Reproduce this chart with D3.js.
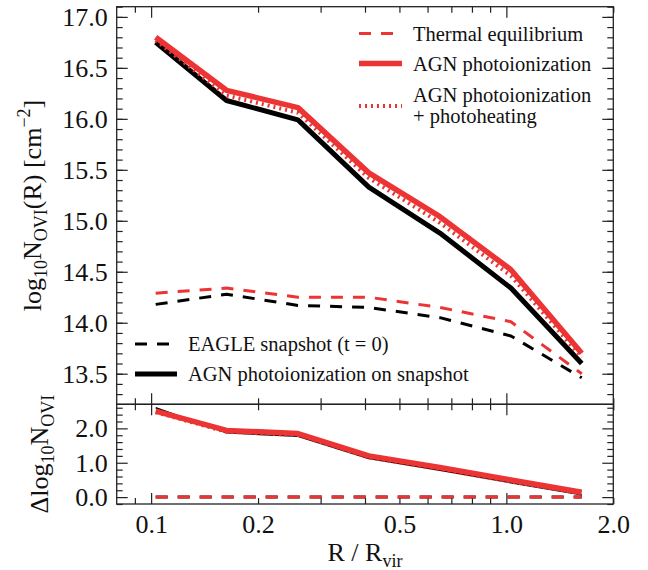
<!DOCTYPE html>
<html>
<head>
<meta charset="utf-8">
<script src="https://cdn.jsdelivr.net/npm/d3@7"></script>
<style>
  body { margin: 0; background: #fff; }
  svg { display: block; }
  text { font-family: "Liberation Serif", "Times New Roman", serif; fill: #111; }
</style>
</head>
<body>
<svg id="chart" width="648" height="570"></svg>
<script>
// Projected radius in units of the virial radius
const radius = [0.103, 0.163, 0.259, 0.41, 0.65, 1.03, 1.63];

// log10 N_OVI column densities [cm^-2]
const thermalEq      = [14.29, 14.34, 14.25, 14.25, 14.15, 14.01, 13.50];
const agnPhotoion    = [16.80, 16.28, 16.11, 15.47, 15.04, 14.52, 13.70];
const agnPhotoheat   = [16.77, 16.23, 16.06, 15.42, 14.98, 14.46, 13.66];
const eagleSnapshot  = [14.18, 14.28, 14.17, 14.15, 14.05, 13.87, 13.46];
const agnOnSnapshot  = [16.75, 16.18, 15.99, 15.33, 14.88, 14.34, 13.60];

// Enhancement relative to the matching no-AGN profile
const dThermalEq     = [0, 0, 0, 0, 0, 0, 0];
const dAgnPhotoion   = [2.50, 1.94, 1.85, 1.20, 0.86, 0.50, 0.14];
const dAgnPhotoheat  = [2.47, 1.90, 1.81, 1.16, 0.81, 0.45, 0.11];
const dEagleSnapshot = [0, 0, 0, 0, 0, 0, 0];
const dAgnOnSnapshot = [2.60, 1.87, 1.77, 1.12, 0.78, 0.42, 0.07];

// Tick values
const xMajorTicks = [0.1, 1.0];
const xMinorTicks = [0.09, 0.2, 0.3, 0.4, 0.5, 0.6, 0.7, 0.8, 0.9, 2.0];
const xTickLabels = [0.1, 0.2, 0.5, 1.0, 2.0];
const yTopMajor = [13.5, 14.0, 14.5, 15.0, 15.5, 16.0, 16.5, 17.0];
const yTopMinor = d3.range(133, 172).map(v => v / 10);
const yBotMajor = [0, 1, 2];
const yBotMinor = [-0.2, 0.2, 0.4, 0.6, 0.8, 1.2, 1.4, 1.6, 1.8, 2.2, 2.4, 2.6];

const RED = "#ec3434";
const BLACK = "#000";
const FONT = '"Liberation Serif", "Times New Roman", serif';

const svg = d3.select("#chart");

const left = 116.7, right = 613.3;
const topY0 = 6.7, topY1 = 404.3, botY1 = 504;

const x = d3.scaleLog().domain([0.08, 2.0]).range([left, right]);
const yTop = d3.scaleLinear().domain([13.2, 17.1]).range([topY1, topY0]);
const yBot = d3.scaleLinear().domain([-0.2, 2.7]).range([botY1, topY1]);

const AX = "#222";
const MAJ = 11, MIN = 6;

function drawAxis(axis, tx, ty) {
  const g = svg.append("g").attr("transform", `translate(${tx},${ty})`).call(axis);
  g.select(".domain").remove();
  g.selectAll("line").attr("stroke", AX).attr("stroke-width", 1.2);
  g.selectAll("text").attr("font-size", 26).attr("fill", "#111").attr("font-family", FONT);
  return g;
}

function panelAxes(yScale, yMajor, yMinor, y0, y1, yFmt, showXLabels) {
  svg.append("rect").attr("x", left).attr("y", y0)
    .attr("width", right - left).attr("height", y1 - y0)
    .attr("fill", "none").attr("stroke", AX).attr("stroke-width", 1.3);
  drawAxis(d3.axisLeft(yScale).tickValues(yMajor).tickSize(-MAJ).tickPadding(9).tickFormat(yFmt), left, 0);
  drawAxis(d3.axisLeft(yScale).tickValues(yMinor).tickSize(-MIN).tickFormat(""), left, 0);
  drawAxis(d3.axisRight(yScale).tickValues(yMajor).tickSize(-MAJ).tickFormat(""), right, 0);
  drawAxis(d3.axisRight(yScale).tickValues(yMinor).tickSize(-MIN).tickFormat(""), right, 0);
  drawAxis(d3.axisTop(x).tickValues(xMajorTicks).tickSize(-MAJ).tickFormat(""), 0, y0);
  drawAxis(d3.axisTop(x).tickValues(xMinorTicks).tickSize(-MIN).tickFormat(""), 0, y0);
  drawAxis(d3.axisBottom(x).tickValues(xMajorTicks).tickSize(-MAJ).tickFormat(""), 0, y1);
  drawAxis(d3.axisBottom(x).tickValues(xMinorTicks).tickSize(-MIN).tickFormat(""), 0, y1);
  if (showXLabels) {
    drawAxis(d3.axisBottom(x).tickValues(xTickLabels).tickSize(0).tickPadding(11)
      .tickFormat(d3.format(".1f")), 0, y1);
  }
}

panelAxes(yTop, yTopMajor, yTopMinor, topY0, topY1, d3.format(".1f"), false);
panelAxes(yBot, yBotMajor, yBotMinor, topY1, botY1, d3.format(".1f"), true);

// ---- curves ----
function series(vals, yScale, color, width, dash, parent) {
  const pts = radius.map((r, i) => [r, vals[i]]);
  const line = d3.line().x(d => x(d[0])).y(d => yScale(d[1]));
  parent.append("path").datum(pts)
    .attr("d", line)
    .attr("fill", "none")
    .attr("stroke", color)
    .attr("stroke-width", width)
    .attr("stroke-linejoin", "round")
    .attr("stroke-linecap", "butt")
    .attr("stroke-dasharray", dash || null);
}

const gTop = svg.append("g");
series(eagleSnapshot, yTop, BLACK, 3, "12,10", gTop);
series(thermalEq, yTop, RED, 3, "12,10", gTop);
series(agnOnSnapshot, yTop, BLACK, 5, null, gTop);
series(agnPhotoheat, yTop, RED, 4, "2,4", gTop);
series(agnPhotoion, yTop, RED, 5.5, null, gTop);

const gBot = svg.append("g");
series(dEagleSnapshot, yBot, BLACK, 3, "12,10", gBot);
series(dThermalEq, yBot, RED, 3, "12,10", gBot);
series(dAgnOnSnapshot, yBot, BLACK, 1.5, null, gBot);
series(dAgnPhotoheat, yBot, RED, 4, "2,4", gBot);
series(dAgnPhotoion, yBot, RED, 5.5, null, gBot);

// ---- legends ----
function legendRow(x0, x1, y, color, width, dash, labelLines, tx, lineYs) {
  svg.append("line").attr("x1", x0).attr("x2", x1).attr("y1", y).attr("y2", y)
    .attr("stroke", color).attr("stroke-width", width)
    .attr("stroke-dasharray", dash || null);
  labelLines.forEach((t, i) => {
    svg.append("text").attr("x", tx).attr("y", lineYs[i]).attr("dy", "0.35em")
      .attr("font-family", FONT).attr("font-size", 20.5).text(t);
  });
}

legendRow(359, 402, 33.5, RED, 3, "12,10", ["Thermal equilibrium"], 413, [33.5]);
legendRow(359, 402, 63.5, RED, 5.5, null, ["AGN photoionization"], 413, [63.5]);
legendRow(359, 402, 106, RED, 4, "2,4", ["AGN photoionization", "+ photoheating"], 413, [95, 116]);

legendRow(135, 177, 344, BLACK, 3, "12,10", ["EAGLE snapshot (t = 0)"], 188, [344]);
legendRow(135, 177, 374, BLACK, 5, null, ["AGN photoionization on snapshot"], 188, [374]);

// ---- axis titles ----
const yLab = svg.append("text")
  .attr("transform", `translate(41,${(topY0 + topY1) / 2}) rotate(-90)`)
  .attr("text-anchor", "middle").attr("font-family", FONT).attr("font-size", 26);
yLab.append("tspan").text("log");
yLab.append("tspan").attr("font-size", 18).attr("dy", 6).text("10");
yLab.append("tspan").attr("dy", -6).text("N");
yLab.append("tspan").attr("font-size", 18).attr("dy", 6).text("OVI");
yLab.append("tspan").attr("dy", -6).text("(R) [cm");
yLab.append("tspan").attr("font-size", 18).attr("dy", -11).text("\u22122");
yLab.append("tspan").attr("dy", 11).text("]");

const dLab = svg.append("text")
  .attr("transform", `translate(48,${(topY1 + botY1) / 2}) rotate(-90)`)
  .attr("text-anchor", "middle").attr("font-family", FONT).attr("font-size", 26);
dLab.append("tspan").text("\u0394log");
dLab.append("tspan").attr("font-size", 18).attr("dy", 6).text("10");
dLab.append("tspan").attr("dy", -6).text("N");
dLab.append("tspan").attr("font-size", 18).attr("dy", 6).text("OVI");

const xLab = svg.append("text")
  .attr("x", (left + right) / 2).attr("y", 561)
  .attr("text-anchor", "middle").attr("font-family", FONT).attr("font-size", 26);
xLab.append("tspan").text("R / R");
xLab.append("tspan").attr("font-size", 18).attr("dy", 6).text("vir");
</script>
</body>
</html>
